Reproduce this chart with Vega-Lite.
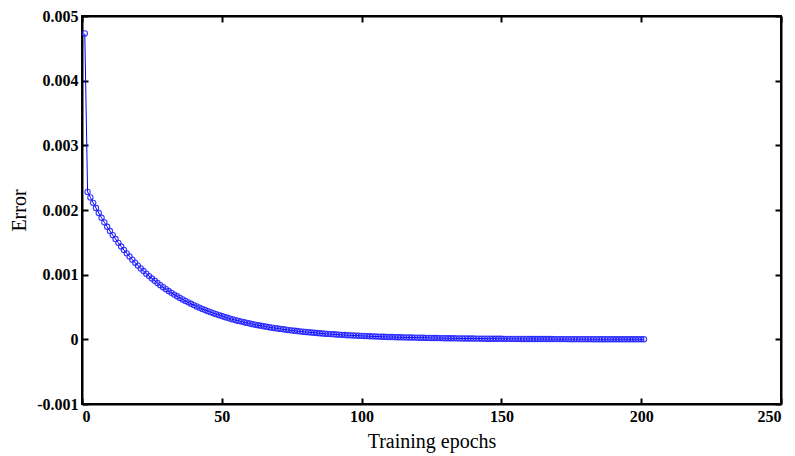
{
  "$schema": "https://vega.github.io/schema/vega-lite/v6.json",
  "width": 699,
  "height": 388,
  "autosize": {"type": "none"},
  "padding": {"left": 82, "top": 16, "right": 14, "bottom": 52},
  "background": "white",
  "config": {
    "view": {"stroke": "black", "strokeWidth": 2},
    "axis": {
      "grid": false,
      "domain": true,
      "domainColor": "black",
      "domainWidth": 2,
      "ticks": true,
      "tickColor": "black",
      "tickWidth": 2,
      "tickSize": -6,
      "labelFont": "Liberation Serif",
      "labelFontSize": 16,
      "labelFontWeight": "bold",
      "labelColor": "black",
      "titleFont": "Liberation Serif",
      "titleFontSize": 20,
      "titleFontWeight": "normal",
      "titleColor": "black"
    }
  },
  "data": {
    "values": [
      {"epoch": 1, "error": 0.00473}, {"epoch": 2, "error": 0.00228}, {"epoch": 3, "error": 0.002194}, {"epoch": 4, "error": 0.002111},
      {"epoch": 5, "error": 0.002031}, {"epoch": 6, "error": 0.001954}, {"epoch": 7, "error": 0.00188}, {"epoch": 8, "error": 0.001809},
      {"epoch": 9, "error": 0.001741}, {"epoch": 10, "error": 0.001675}, {"epoch": 11, "error": 0.001612}, {"epoch": 12, "error": 0.001551},
      {"epoch": 13, "error": 0.001492}, {"epoch": 14, "error": 0.001436}, {"epoch": 15, "error": 0.001382}, {"epoch": 16, "error": 0.00133},
      {"epoch": 17, "error": 0.00128}, {"epoch": 18, "error": 0.001232}, {"epoch": 19, "error": 0.001185}, {"epoch": 20, "error": 0.00114},
      {"epoch": 21, "error": 0.001097}, {"epoch": 22, "error": 0.001056}, {"epoch": 23, "error": 0.001016}, {"epoch": 24, "error": 0.000978},
      {"epoch": 25, "error": 0.000941}, {"epoch": 26, "error": 0.000905}, {"epoch": 27, "error": 0.000871}, {"epoch": 28, "error": 0.000838},
      {"epoch": 29, "error": 0.000806}, {"epoch": 30, "error": 0.000776}, {"epoch": 31, "error": 0.000747}, {"epoch": 32, "error": 0.000719},
      {"epoch": 33, "error": 0.000692}, {"epoch": 34, "error": 0.000666}, {"epoch": 35, "error": 0.000641}, {"epoch": 36, "error": 0.000617},
      {"epoch": 37, "error": 0.000594}, {"epoch": 38, "error": 0.000572}, {"epoch": 39, "error": 0.00055}, {"epoch": 40, "error": 0.000529},
      {"epoch": 41, "error": 0.000509}, {"epoch": 42, "error": 0.00049}, {"epoch": 43, "error": 0.000471}, {"epoch": 44, "error": 0.000453},
      {"epoch": 45, "error": 0.000436}, {"epoch": 46, "error": 0.00042}, {"epoch": 47, "error": 0.000404}, {"epoch": 48, "error": 0.000389},
      {"epoch": 49, "error": 0.000374}, {"epoch": 50, "error": 0.00036}, {"epoch": 51, "error": 0.000346}, {"epoch": 52, "error": 0.000333},
      {"epoch": 53, "error": 0.00032}, {"epoch": 54, "error": 0.000308}, {"epoch": 55, "error": 0.000296}, {"epoch": 56, "error": 0.000285},
      {"epoch": 57, "error": 0.000274}, {"epoch": 58, "error": 0.000264}, {"epoch": 59, "error": 0.000254}, {"epoch": 60, "error": 0.000244},
      {"epoch": 61, "error": 0.000235}, {"epoch": 62, "error": 0.000226}, {"epoch": 63, "error": 0.000218}, {"epoch": 64, "error": 0.00021},
      {"epoch": 65, "error": 0.000202}, {"epoch": 66, "error": 0.000194}, {"epoch": 67, "error": 0.000187}, {"epoch": 68, "error": 0.00018},
      {"epoch": 69, "error": 0.000173}, {"epoch": 70, "error": 0.000167}, {"epoch": 71, "error": 0.000161}, {"epoch": 72, "error": 0.000155},
      {"epoch": 73, "error": 0.000149}, {"epoch": 74, "error": 0.000143}, {"epoch": 75, "error": 0.000138}, {"epoch": 76, "error": 0.000133},
      {"epoch": 77, "error": 0.000128}, {"epoch": 78, "error": 0.000123}, {"epoch": 79, "error": 0.000118}, {"epoch": 80, "error": 0.000114},
      {"epoch": 81, "error": 0.00011}, {"epoch": 82, "error": 0.000106}, {"epoch": 83, "error": 0.000102}, {"epoch": 84, "error": 0.000098},
      {"epoch": 85, "error": 0.000094}, {"epoch": 86, "error": 0.00009}, {"epoch": 87, "error": 0.000087}, {"epoch": 88, "error": 0.000084},
      {"epoch": 89, "error": 0.000081}, {"epoch": 90, "error": 0.000078}, {"epoch": 91, "error": 0.000075}, {"epoch": 92, "error": 0.000072},
      {"epoch": 93, "error": 0.000069}, {"epoch": 94, "error": 0.000066}, {"epoch": 95, "error": 0.000064}, {"epoch": 96, "error": 0.000062},
      {"epoch": 97, "error": 0.00006}, {"epoch": 98, "error": 0.000058}, {"epoch": 99, "error": 0.000056}, {"epoch": 100, "error": 0.000054},
      {"epoch": 101, "error": 0.000052}, {"epoch": 102, "error": 0.00005}, {"epoch": 103, "error": 0.000048}, {"epoch": 104, "error": 0.000046},
      {"epoch": 105, "error": 0.000044}, {"epoch": 106, "error": 0.000042}, {"epoch": 107, "error": 0.00004}, {"epoch": 108, "error": 0.000039},
      {"epoch": 109, "error": 0.000037}, {"epoch": 110, "error": 0.000036}, {"epoch": 111, "error": 0.000035}, {"epoch": 112, "error": 0.000034},
      {"epoch": 113, "error": 0.000033}, {"epoch": 114, "error": 0.000032}, {"epoch": 115, "error": 0.000031}, {"epoch": 116, "error": 0.00003},
      {"epoch": 117, "error": 0.000029}, {"epoch": 118, "error": 0.000028}, {"epoch": 119, "error": 0.000027}, {"epoch": 120, "error": 0.000026},
      {"epoch": 121, "error": 0.000025}, {"epoch": 122, "error": 0.0000241}, {"epoch": 123, "error": 0.0000232}, {"epoch": 124, "error": 0.0000223},
      {"epoch": 125, "error": 0.0000214}, {"epoch": 126, "error": 0.0000206}, {"epoch": 127, "error": 0.0000198}, {"epoch": 128, "error": 0.0000191},
      {"epoch": 129, "error": 0.0000184}, {"epoch": 130, "error": 0.0000177}, {"epoch": 131, "error": 0.000017}, {"epoch": 132, "error": 0.0000164},
      {"epoch": 133, "error": 0.0000158}, {"epoch": 134, "error": 0.0000152}, {"epoch": 135, "error": 0.0000146}, {"epoch": 136, "error": 0.000014},
      {"epoch": 137, "error": 0.0000135}, {"epoch": 138, "error": 0.000013}, {"epoch": 139, "error": 0.0000125}, {"epoch": 140, "error": 0.000012},
      {"epoch": 141, "error": 0.0000116}, {"epoch": 142, "error": 0.0000111}, {"epoch": 143, "error": 0.0000107}, {"epoch": 144, "error": 0.0000103},
      {"epoch": 145, "error": 0.0000099}, {"epoch": 146, "error": 0.0000095}, {"epoch": 147, "error": 0.0000092}, {"epoch": 148, "error": 0.0000088},
      {"epoch": 149, "error": 0.0000085}, {"epoch": 150, "error": 0.0000082}, {"epoch": 151, "error": 0.0000079}, {"epoch": 152, "error": 0.0000076},
      {"epoch": 153, "error": 0.0000073}, {"epoch": 154, "error": 0.000007}, {"epoch": 155, "error": 0.0000067}, {"epoch": 156, "error": 0.0000065},
      {"epoch": 157, "error": 0.0000062}, {"epoch": 158, "error": 0.000006}, {"epoch": 159, "error": 0.0000058}, {"epoch": 160, "error": 0.0000056},
      {"epoch": 161, "error": 0.0000054}, {"epoch": 162, "error": 0.0000052}, {"epoch": 163, "error": 0.000005}, {"epoch": 164, "error": 0.0000048},
      {"epoch": 165, "error": 0.0000046}, {"epoch": 166, "error": 0.0000044}, {"epoch": 167, "error": 0.0000042}, {"epoch": 168, "error": 0.0000041},
      {"epoch": 169, "error": 0.0000039}, {"epoch": 170, "error": 0.0000038}, {"epoch": 171, "error": 0.0000036}, {"epoch": 172, "error": 0.0000035},
      {"epoch": 173, "error": 0.0000034}, {"epoch": 174, "error": 0.0000032}, {"epoch": 175, "error": 0.0000031}, {"epoch": 176, "error": 0.000003},
      {"epoch": 177, "error": 0.0000029}, {"epoch": 178, "error": 0.0000028}, {"epoch": 179, "error": 0.0000027}, {"epoch": 180, "error": 0.0000026},
      {"epoch": 181, "error": 0.0000025}, {"epoch": 182, "error": 0.0000024}, {"epoch": 183, "error": 0.0000023}, {"epoch": 184, "error": 0.0000022},
      {"epoch": 185, "error": 0.0000021}, {"epoch": 186, "error": 0.000002}, {"epoch": 187, "error": 0.0000019}, {"epoch": 188, "error": 0.0000019},
      {"epoch": 189, "error": 0.0000018}, {"epoch": 190, "error": 0.0000017}, {"epoch": 191, "error": 0.0000017}, {"epoch": 192, "error": 0.0000016},
      {"epoch": 193, "error": 0.0000015}, {"epoch": 194, "error": 0.0000015}, {"epoch": 195, "error": 0.0000014}, {"epoch": 196, "error": 0.0000014},
      {"epoch": 197, "error": 0.0000013}, {"epoch": 198, "error": 0.0000013}, {"epoch": 199, "error": 0.0000012}, {"epoch": 200, "error": 0.0000012},
      {"epoch": 201, "error": 0.0000011}
    ]
  },
  "layer": [
    {
      "mark": {"type": "line", "color": "#0000ff", "strokeWidth": 1},
      "encoding": {
        "x": {
          "field": "epoch", "type": "quantitative",
          "scale": {"domain": [0, 250], "nice": false, "zero": false},
          "axis": {"values": [0, 50, 100, 150, 200, 250], "title": "Training epochs", "titlePadding": 7, "labelPadding": 10}
        },
        "y": {
          "field": "error", "type": "quantitative",
          "scale": {"domain": [-0.001, 0.005], "nice": false, "zero": false},
          "axis": {
            "values": [-0.001, 0, 0.001, 0.002, 0.003, 0.004, 0.005],
            "labelExpr": "datum.value == 0 ? '0' : replace(format(datum.value, '.3f'), '\u2212', '-')",
            "title": "Error", "titlePadding": 7, "labelPadding": 10
          }
        }
      }
    },
    {
      "mark": {"type": "point", "shape": "circle", "filled": false, "color": "#1a1aff", "size": 28, "strokeWidth": 1.1, "opacity": 0.85},
      "encoding": {
        "x": {"field": "epoch", "type": "quantitative", "axis": null},
        "y": {"field": "error", "type": "quantitative", "axis": null}
      }
    },
    {
      "mark": {"type": "point", "opacity": 0},
      "encoding": {
        "x": {"field": "epoch", "type": "quantitative", "axis": {"orient": "top", "labels": false, "title": null, "values": [0, 50, 100, 150, 200, 250]}},
        "y": {"field": "error", "type": "quantitative", "axis": {"orient": "right", "labels": false, "title": null, "values": [-0.001, 0, 0.001, 0.002, 0.003, 0.004, 0.005]}}
      }
    }
  ],
  "resolve": {"axis": {"x": "independent", "y": "independent"}}
}
